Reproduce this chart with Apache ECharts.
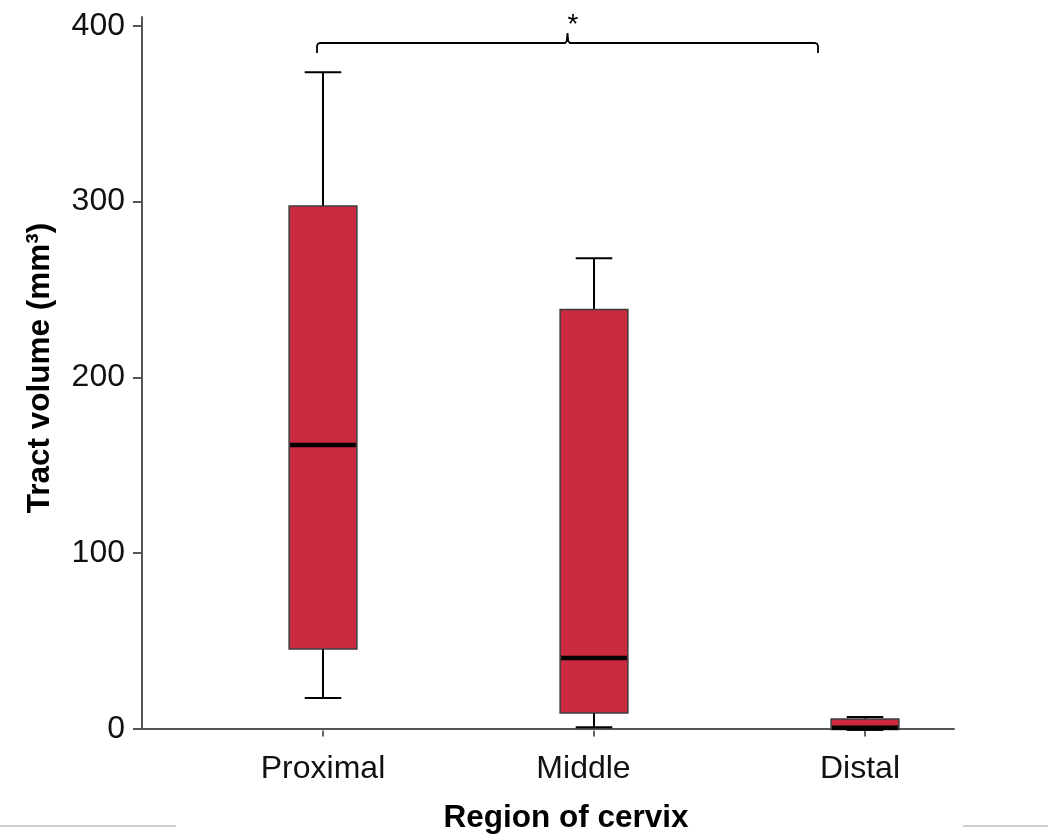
<!DOCTYPE html>
<html><head><meta charset="utf-8">
<script src="https://cdn.jsdelivr.net/npm/echarts@6/dist/echarts.min.js"></script>
<style>html,body{margin:0;padding:0;background:#fff}#c{width:1048px;height:839px}</style>
</head><body><div id="c"></div>
<script>
const categories = ['Proximal', 'Middle', 'Distal'];
const whiskerLow = [18.5, 1.8, 0.3];
const q1 = [46.3, 9.9, 0.5];
const median = [162, 41.2, 1.5];
const q3 = [297.7, 239, 6.5];
const whiskerHigh = [373.7, 268, 7.7];
const yTicks = [0, 100, 200, 300, 400];
const yMax = 405;

const FONT = '"Liberation Sans", Arial, Helvetica, sans-serif';
const boxData = categories.map((c, i) => [i, whiskerLow[i], q1[i], median[i], q3[i], whiskerHigh[i]]);

function renderItem(params, api) {
  const i = api.value(0);
  const band = api.size([1, 0])[0];
  const bw = band * 0.25, cw = band * 0.135;
  const c = api.coord([i, 0])[0];
  const y = v => api.coord([i, v])[1];
  const yLo = y(api.value(1)), yQ1 = y(api.value(2)), yMed = y(api.value(3)), yQ3 = y(api.value(4)), yHi = y(api.value(5));
  const line = (x1, y1, x2, y2, w) => ({ type: 'line', shape: { x1, y1, x2, y2 }, style: { stroke: '#000', lineWidth: w } });
  return {
    type: 'group', children: [
      line(c, yQ3, c, yHi, 2), line(c - cw / 2, yHi, c + cw / 2, yHi, 2),
      line(c, yQ1, c, yLo, 2), line(c - cw / 2, yLo, c + cw / 2, yLo, 2),
      { type: 'rect', shape: { x: c - bw / 2, y: yQ3, width: bw, height: yQ1 - yQ3 }, style: { fill: '#cb2a41', stroke: '#3c3c3c', lineWidth: 1.5 } },
      line(c - bw / 2 + 1, yMed, c + bw / 2 - 1, yMed, 4.5)
    ]
  };
}

const chart = echarts.init(document.getElementById('c'), null, { renderer: 'canvas' });
chart.setOption({
  animation: false,
  backgroundColor: '#fff',
  grid: [
    { left: 142, right: 94, top: 17, bottom: 108.5 },
    { left: 187.5, right: 47.5, top: 17, bottom: 108.5 }
  ],
  xAxis: [
    {
      gridIndex: 0, type: 'value', min: 0, max: 1,
      axisLine: { show: true, lineStyle: { color: '#555', width: 2 } },
      axisTick: { show: false }, axisLabel: { show: false }, splitLine: { show: false },
      name: 'Region of cervix', nameLocation: 'middle', nameGap: 73,
      nameTextStyle: { fontFamily: FONT, fontSize: 31.5, fontWeight: 'bold', color: '#000', padding: [0, 0, 0, 36] }
    },
    {
      gridIndex: 1, type: 'category', data: categories, boundaryGap: true,
      axisLine: { show: false },
      axisTick: { show: true, alignWithLabel: true, length: 6, lineStyle: { color: '#333', width: 1.5 } },
      axisLabel: {
        margin: 23, fontFamily: FONT, fontSize: 32, color: '#111',
        formatter: (v) => v === 'Middle' ? '{m|' + v + '}' : v === 'Distal' ? '{d|' + v + '}' : '{p|' + v + '}',
        rich: {
          p: { fontFamily: FONT, fontSize: 32, color: '#111' },
          m: { fontFamily: FONT, fontSize: 32, color: '#111', padding: [0, 21, 0, 0] },
          d: { fontFamily: FONT, fontSize: 32, color: '#111', padding: [0, 10, 0, 0] }
        }
      },
      splitLine: { show: false }
    }
  ],
  yAxis: [
    {
      gridIndex: 0, type: 'value', min: 0, max: yMax,
      axisLine: { show: true, lineStyle: { color: '#555', width: 2 } },
      axisTick: { show: true, length: 9, customValues: yTicks, lineStyle: { color: '#555', width: 2 } },
      axisLabel: { customValues: yTicks, margin: 17, fontFamily: FONT, fontSize: 32, color: '#111', padding: [6, 0, 0, 0] },
      splitLine: { show: false },
      name: 'Tract volume (mm³)', nameLocation: 'middle', nameGap: 86,
      nameTextStyle: { fontFamily: FONT, fontSize: 31.5, fontWeight: 'bold', color: '#000', padding: [0, 0, 0, 10] }
    },
    { gridIndex: 1, type: 'value', min: 0, max: yMax, show: false, splitLine: { show: false } }
  ],
  series: [{
    type: 'custom', xAxisIndex: 1, yAxisIndex: 1,
    renderItem, data: boxData, encode: { x: 0, y: [1, 2, 3, 4, 5] }, clip: false
  }],
  graphic: [
    {
      type: 'polyline',
      shape: { points: [[317, 53], [317, 46], [317.8, 44], [320, 43], [565, 43], [566.8, 41], [567.5, 33], [568.2, 41], [570, 43], [815, 43], [817.2, 44], [818, 46], [818, 53]] },
      style: { fill: null, stroke: '#000', lineWidth: 1.8 }
    },
    { type: 'text', x: 573, y: 39, style: { text: '*', font: '28px ' + FONT, fill: '#000', align: 'center', verticalAlign: 'bottom' } },
    { type: 'line', shape: { x1: 0, y1: 826, x2: 176, y2: 826 }, style: { stroke: '#cfcfcf', lineWidth: 2 } },
    { type: 'line', shape: { x1: 963, y1: 826, x2: 1048, y2: 826 }, style: { stroke: '#cfcfcf', lineWidth: 2 } }
  ]
});
</script></body></html>
